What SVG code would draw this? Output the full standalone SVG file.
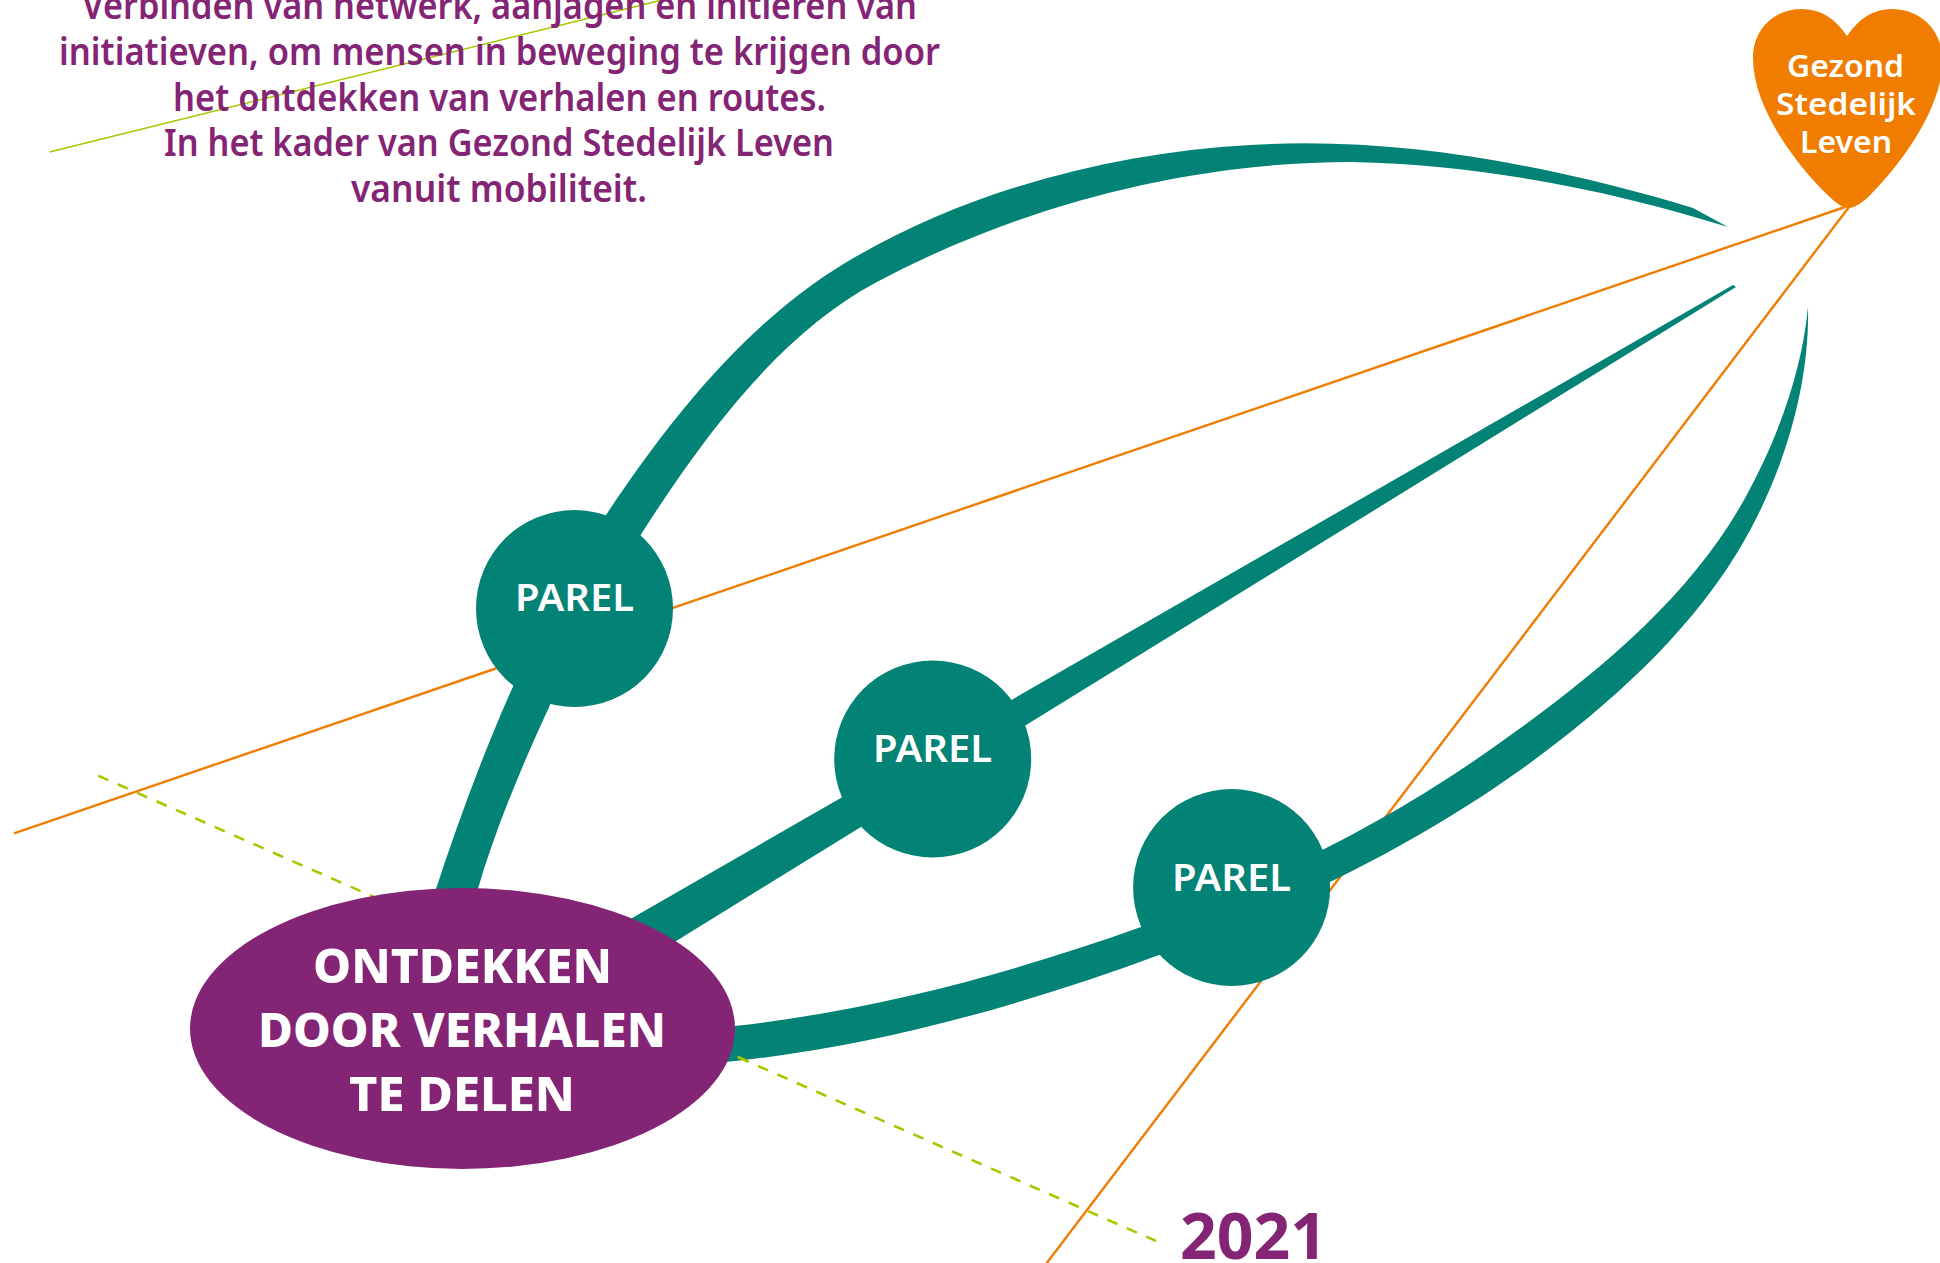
<svg xmlns="http://www.w3.org/2000/svg" width="1940" height="1263" viewBox="0 0 1940 1263">
<style>
text{font-family:"Noto Sans","Open Sans","Liberation Sans",sans-serif}
.teal{fill:#028375}
.orange{stroke:#F07D00;stroke-width:2.4;fill:none}
.lime{stroke:#A9C600;fill:none}
.dash{stroke-width:2.6;stroke-dasharray:11 10.2}
.intro{fill:#842474;font-size:37px;font-weight:600}
.parel{fill:#fff;font-size:37px;font-weight:600}
.main{fill:#fff;font-size:48px;font-weight:800}
.heart{fill:#fff;font-size:31px;font-weight:600}
</style>
<rect width="1940" height="1263" fill="#fff"/>
<g id="connectors">
<line id="lime-solid" class="lime" stroke-width="1.6" x1="49.5" y1="152" x2="670" y2="-2"/>
<line id="lime-dashed" class="lime dash" x1="98.3" y1="775.7" x2="1156" y2="1241"/>
<line id="orange-1" class="orange" x1="14" y1="833.3" x2="1845" y2="207"/>
<line id="orange-2" class="orange" x1="1849" y1="207" x2="1046" y2="1264"/>
<path id="stem-top" class="teal" d="M435 892C478 761 530 630 606 515C670 419 746 323 845 263C965 191 1110 153 1250 145C1397 136 1550 165 1693 208L1728 227C1620 193 1490 165 1352 162C1188 162 1019 206 875 283C793 327 720 410 640 536C600 600 575 650 550 705C520 770 495 830 477 892Z"/>
<path id="stem-middle" class="teal" d="M620 925L1733 285L1736 287L660 951Z"/>
<path id="stem-bottom" class="teal" d="M720 1027L734 1026C880 1010 1017 971 1141 927C1265 883 1386 824 1494 747C1590 679 1687 602 1744 500C1777 441 1802 372 1808 307C1810 390 1781 481 1737 553C1686 636 1609 705 1530 763C1417 845 1290 906 1159 955C1010 1010 860 1050 715 1063Z"/>
<line id="lime-dash-over" class="lime" stroke-width="2.6" x1="737.6" y1="1056.7" x2="747.5" y2="1061.2"/>
</g>
<g id="intro-text">
<text class="intro" x="82" y="19" textLength="835" lengthAdjust="spacingAndGlyphs">Verbinden van netwerk, aanjagen en initieren van</text>
<text class="intro" x="59" y="64.5" textLength="881" lengthAdjust="spacingAndGlyphs">initiatieven, om mensen in beweging te krijgen door</text>
<text class="intro" x="173" y="110.5" textLength="653" lengthAdjust="spacingAndGlyphs">het ontdekken van verhalen en routes.</text>
<text class="intro" x="164" y="156" textLength="670" lengthAdjust="spacingAndGlyphs">In het kader van Gezond Stedelijk Leven</text>
<text class="intro" x="351" y="202" textLength="296" lengthAdjust="spacingAndGlyphs">vanuit mobiliteit.</text>
</g>
<g id="parel-1">
<circle class="teal" cx="574.5" cy="608.5" r="98.5"/>
<text class="parel" x="515" y="610.7" textLength="119" lengthAdjust="spacingAndGlyphs">PAREL</text>
</g>
<g id="parel-2">
<circle class="teal" cx="932.7" cy="759" r="98.5"/>
<text class="parel" x="873" y="761.7" textLength="119" lengthAdjust="spacingAndGlyphs">PAREL</text>
</g>
<g id="parel-3">
<circle class="teal" cx="1231.6" cy="887.5" r="98.5"/>
<text class="parel" x="1172" y="891" textLength="119" lengthAdjust="spacingAndGlyphs">PAREL</text>
</g>
<g id="ontdekken">
<ellipse cx="462.5" cy="1028.5" rx="272.5" ry="140.5" fill="#842474"/>
<text class="main" x="313" y="982.7" textLength="299" lengthAdjust="spacingAndGlyphs">ONTDEKKEN</text>
<text class="main" x="258" y="1046.7" textLength="408" lengthAdjust="spacingAndGlyphs">DOOR VERHALEN</text>
<text class="main" x="349" y="1110.7" textLength="226" lengthAdjust="spacingAndGlyphs">TE DELEN</text>
</g>
<g id="gezond-stedelijk-leven">
<path fill="#F07D00" d="M1847 36C1835 18 1820 9 1802 9C1773 9 1753 30 1753 58C1753 110 1800 170 1833 200C1840 206 1845 208 1848 208C1856 208 1866 200 1873 192C1900 165 1945 105 1942 58C1942 30 1920 9 1892 9C1874 9 1859 18 1847 36Z"/>
<text class="heart" x="1787" y="77.3" textLength="117" lengthAdjust="spacingAndGlyphs">Gezond</text>
<text class="heart" x="1776" y="115.3" textLength="140" lengthAdjust="spacingAndGlyphs">Stedelijk</text>
<text class="heart" x="1800" y="152.7" textLength="92" lengthAdjust="spacingAndGlyphs">Leven</text>
</g>
<g id="year">
<text x="1180" y="1259" font-size="64" font-weight="700" fill="#842474" textLength="147" lengthAdjust="spacingAndGlyphs">2021</text>
</g>
</svg>
